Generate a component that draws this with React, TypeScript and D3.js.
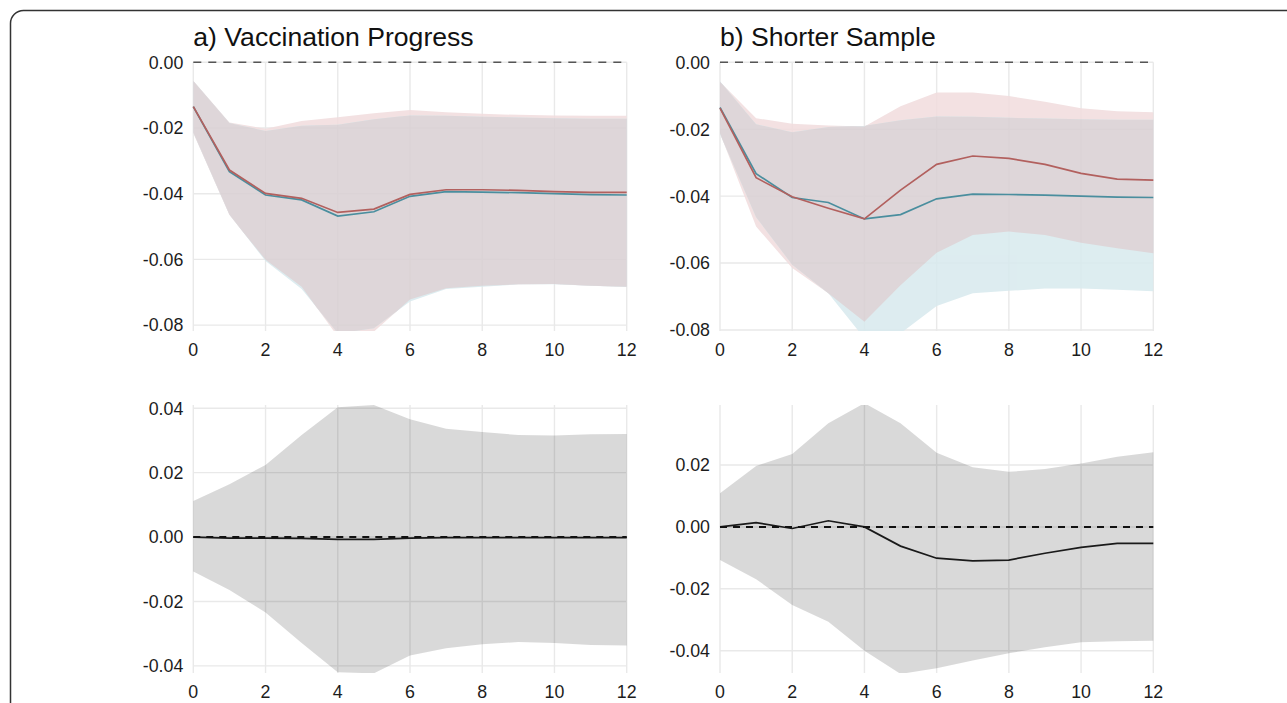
import React from 'react';
import * as d3 from 'd3';

// horizon (periods after the shock)
const steps = d3.range(0, 13);
const xTicks = [0, 2, 4, 6, 8, 10, 12];

// baseline model (teal)
const baseMean = [-0.0135, -0.0333, -0.0404, -0.0419, -0.0468, -0.0455, -0.0408, -0.0394, -0.0395, -0.0397, -0.0400, -0.0403, -0.0404];
const baseUpper = [-0.0057, -0.0185, -0.0209, -0.0193, -0.0190, -0.0173, -0.0162, -0.0163, -0.0166, -0.0168, -0.0170, -0.0172, -0.0172];
const baseLower = [-0.0214, -0.0463, -0.0605, -0.0690, -0.0825, -0.0810, -0.0728, -0.0690, -0.0683, -0.0676, -0.0676, -0.0680, -0.0684];

// a) vaccination progress (red)
const vaccMean = [-0.0135, -0.0328, -0.0399, -0.0414, -0.0457, -0.0447, -0.0402, -0.0388, -0.0388, -0.0390, -0.0394, -0.0396, -0.0396];
const vaccUpper = [-0.0056, -0.0183, -0.0202, -0.0179, -0.0167, -0.0155, -0.0145, -0.0152, -0.0157, -0.0160, -0.0162, -0.0163, -0.0163];
const vaccLower = [-0.0216, -0.0465, -0.0601, -0.0683, -0.0835, -0.0820, -0.0722, -0.0688, -0.0680, -0.0676, -0.0675, -0.0680, -0.0683];

// b) shorter sample (red)
const shortMean = [-0.0137, -0.0345, -0.0402, -0.0436, -0.0468, -0.0382, -0.0305, -0.0280, -0.0287, -0.0305, -0.0332, -0.0349, -0.0352];
const shortUpper = [-0.0058, -0.0167, -0.0184, -0.0189, -0.0192, -0.0131, -0.0090, -0.0090, -0.0101, -0.0118, -0.0137, -0.0146, -0.0149];
const shortLower = [-0.0212, -0.0491, -0.0615, -0.0690, -0.0775, -0.0666, -0.0569, -0.0516, -0.0506, -0.0516, -0.0539, -0.0556, -0.0571];

// differences (bottom row)
const diffAMean = [0.0000, -0.0003, -0.0003, -0.0004, -0.0007, -0.0007, -0.0003, -0.0002, -0.0002, -0.0002, -0.0002, -0.0002, -0.0002];
const diffAUpper = [0.0112, 0.0164, 0.0224, 0.0317, 0.0403, 0.0410, 0.0366, 0.0336, 0.0326, 0.0317, 0.0315, 0.0319, 0.0320];
const diffALower = [-0.0107, -0.0164, -0.0234, -0.0329, -0.0420, -0.0423, -0.0368, -0.0345, -0.0333, -0.0326, -0.0329, -0.0335, -0.0337];

const diffBMean = [0.0000, 0.0014, -0.0005, 0.0020, 0.0000, -0.0062, -0.0101, -0.0110, -0.0107, -0.0085, -0.0066, -0.0053, -0.0053];
const diffBUpper = [0.0109, 0.0197, 0.0236, 0.0335, 0.0400, 0.0335, 0.0240, 0.0193, 0.0178, 0.0187, 0.0205, 0.0227, 0.0241];
const diffBLower = [-0.0107, -0.0169, -0.0252, -0.0306, -0.0400, -0.0475, -0.0457, -0.0432, -0.0408, -0.0389, -0.0373, -0.0369, -0.0368];

const topTicks = [0, -0.02, -0.04, -0.06, -0.08];
const bottomTicksA = [0.04, 0.02, 0, -0.02, -0.04];
const bottomTicksB = [0.02, 0, -0.02, -0.04];

const RED = '#b2605e';
const TEAL = '#4a8e9e';
const FONT = 'Liberation Sans, Arial, sans-serif';

type Pt = { x: number; lo: number; hi: number };

function toBand(lo: number[], hi: number[]): Pt[] {
  return steps.map((s, i) => ({ x: s, lo: lo[i], hi: hi[i] }));
}

// intersection of two bands, with extra points where the edges cross
function overlap(a: Pt[], b: Pt[]): Pt[] {
  const out: Pt[] = [];
  for (let i = 0; i < a.length; i++) {
    out.push({ x: a[i].x, lo: Math.max(a[i].lo, b[i].lo), hi: Math.min(a[i].hi, b[i].hi) });
    if (i === a.length - 1) break;
    const ts: number[] = [];
    const dl0 = a[i].lo - b[i].lo, dl1 = a[i + 1].lo - b[i + 1].lo;
    if (dl0 * dl1 < 0) ts.push(dl0 / (dl0 - dl1));
    const dh0 = a[i].hi - b[i].hi, dh1 = a[i + 1].hi - b[i + 1].hi;
    if (dh0 * dh1 < 0) ts.push(dh0 / (dh0 - dh1));
    ts.sort((p, q) => p - q).forEach(t => {
      const lerp = (u: number, v: number) => u + (v - u) * t;
      out.push({
        x: lerp(a[i].x, a[i + 1].x),
        lo: Math.max(lerp(a[i].lo, a[i + 1].lo), lerp(b[i].lo, b[i + 1].lo)),
        hi: Math.min(lerp(a[i].hi, a[i + 1].hi), lerp(b[i].hi, b[i + 1].hi)),
      });
    });
  }
  return out;
}

interface PanelProps {
  id: string;
  left: number;
  right: number;
  top: number;
  bottom: number;
  domain: [number, number];
  yTicks: number[];
  title?: string;
  compare?: { red: Pt[]; teal: Pt[]; redMean: number[]; tealMean: number[] };
  diff?: { band: Pt[]; mean: number[] };
}

function Panel({ id, left, right, top, bottom, domain, yTicks, title, compare, diff }: PanelProps) {
  const x = d3.scaleLinear().domain([0, 12]).range([left, right]);
  const y = d3.scaleLinear().domain(domain).range([bottom, top]);
  const area = d3.area<Pt>().x(d => x(d.x)).y0(d => y(d.lo)).y1(d => y(d.hi));
  const line = d3.line<number>().x((_, i) => x(steps[i])).y(d => y(d));

  return (
    <g>
      <defs>
        <clipPath id={`clip-${id}`}>
          <rect x={left - 1} y={top} width={right - left + 2} height={bottom - top} />
        </clipPath>
      </defs>
      {/* grid */}
      {yTicks.map(t => (
        <line key={`h${t}`} x1={left} x2={right} y1={y(t)} y2={y(t)} stroke="#e9e9e9" strokeWidth={1.4} />
      ))}
      {xTicks.map(t => (
        <line key={`v${t}`} x1={x(t)} x2={x(t)} y1={top} y2={bottom} stroke="#e9e9e9" strokeWidth={1.4} />
      ))}
      <g clipPath={`url(#clip-${id})`}>
        {compare && (
          <g opacity={0.86}>
            <path d={area(compare.red) ?? ''} fill="#f1ddde" />
            <path d={area(compare.teal) ?? ''} fill="#d8eaee" />
            <path d={area(overlap(compare.red, compare.teal)) ?? ''} fill="#d9d0d3" />
          </g>
        )}
        {diff && <path d={area(diff.band) ?? ''} fill="#000" fillOpacity={0.15} />}
      </g>
      {compare && (
        <>
          <line x1={left} x2={right} y1={y(0)} y2={y(0)} stroke="#555" strokeWidth={1.4} strokeDasharray="8,7" />
          <path d={line(compare.tealMean) ?? ''} fill="none" stroke={TEAL} strokeWidth={1.7} />
          <path d={line(compare.redMean) ?? ''} fill="none" stroke={RED} strokeWidth={1.7} />
        </>
      )}
      {diff && (
        <>
          <path d={line(diff.mean) ?? ''} fill="none" stroke="#1a1a1a" strokeWidth={1.7} />
          <line x1={left} x2={right} y1={y(0)} y2={y(0)} stroke="#111" strokeWidth={2} strokeDasharray="7,6" />
        </>
      )}
      {/* axis labels */}
      {yTicks.map(t => (
        <text key={`yl${t}`} x={left - 10} y={y(t)} dy="0.36em" textAnchor="end" fontSize={17.8} fill="#1c1c1c" fontFamily={FONT}>
          {t.toFixed(2).replace('-0.00', '0.00')}
        </text>
      ))}
      {xTicks.map(t => (
        <text key={`xl${t}`} x={x(t)} y={bottom + 25} textAnchor="middle" fontSize={17.8} fill="#1c1c1c" fontFamily={FONT}>
          {t}
        </text>
      ))}
      {title && (
        <text x={left} y={45.5} fontSize={26.6} fill="#111" fontFamily={FONT}>
          {title}
        </text>
      )}
    </g>
  );
}

export default function App() {
  const baseBand = toBand(baseLower, baseUpper);
  return (
    <svg width={1287} height={703} style={{ position: 'absolute', left: 0, top: 0, background: '#fff' }}>
      <rect x={10.5} y={10.5} width={1400} height={800} rx={13} fill="#fff" stroke="#333" strokeWidth={1.5} />
      <Panel
        id="a"
        left={193.3}
        right={626.7}
        top={62.3}
        bottom={331}
        domain={[-0.0818, 0]}
        yTicks={topTicks}
        title="a) Vaccination Progress"
        compare={{ red: toBand(vaccLower, vaccUpper), teal: baseBand, redMean: vaccMean, tealMean: baseMean }}
      />
      <Panel
        id="b"
        left={720}
        right={1153.3}
        top={62.3}
        bottom={331}
        domain={[-0.0803, 0]}
        yTicks={topTicks}
        title="b) Shorter Sample"
        compare={{ red: toBand(shortLower, shortUpper), teal: baseBand, redMean: shortMean, tealMean: baseMean }}
      />
      <Panel
        id="c"
        left={193.3}
        right={626.7}
        top={405}
        bottom={673}
        domain={[-0.0422, 0.041]}
        yTicks={bottomTicksA}
        diff={{ band: toBand(diffALower, diffAUpper), mean: diffAMean }}
      />
      <Panel
        id="d"
        left={720}
        right={1153.3}
        top={405}
        bottom={673}
        domain={[-0.0472, 0.0394]}
        yTicks={bottomTicksB}
        diff={{ band: toBand(diffBLower, diffBUpper), mean: diffBMean }}
      />
    </svg>
  );
}
